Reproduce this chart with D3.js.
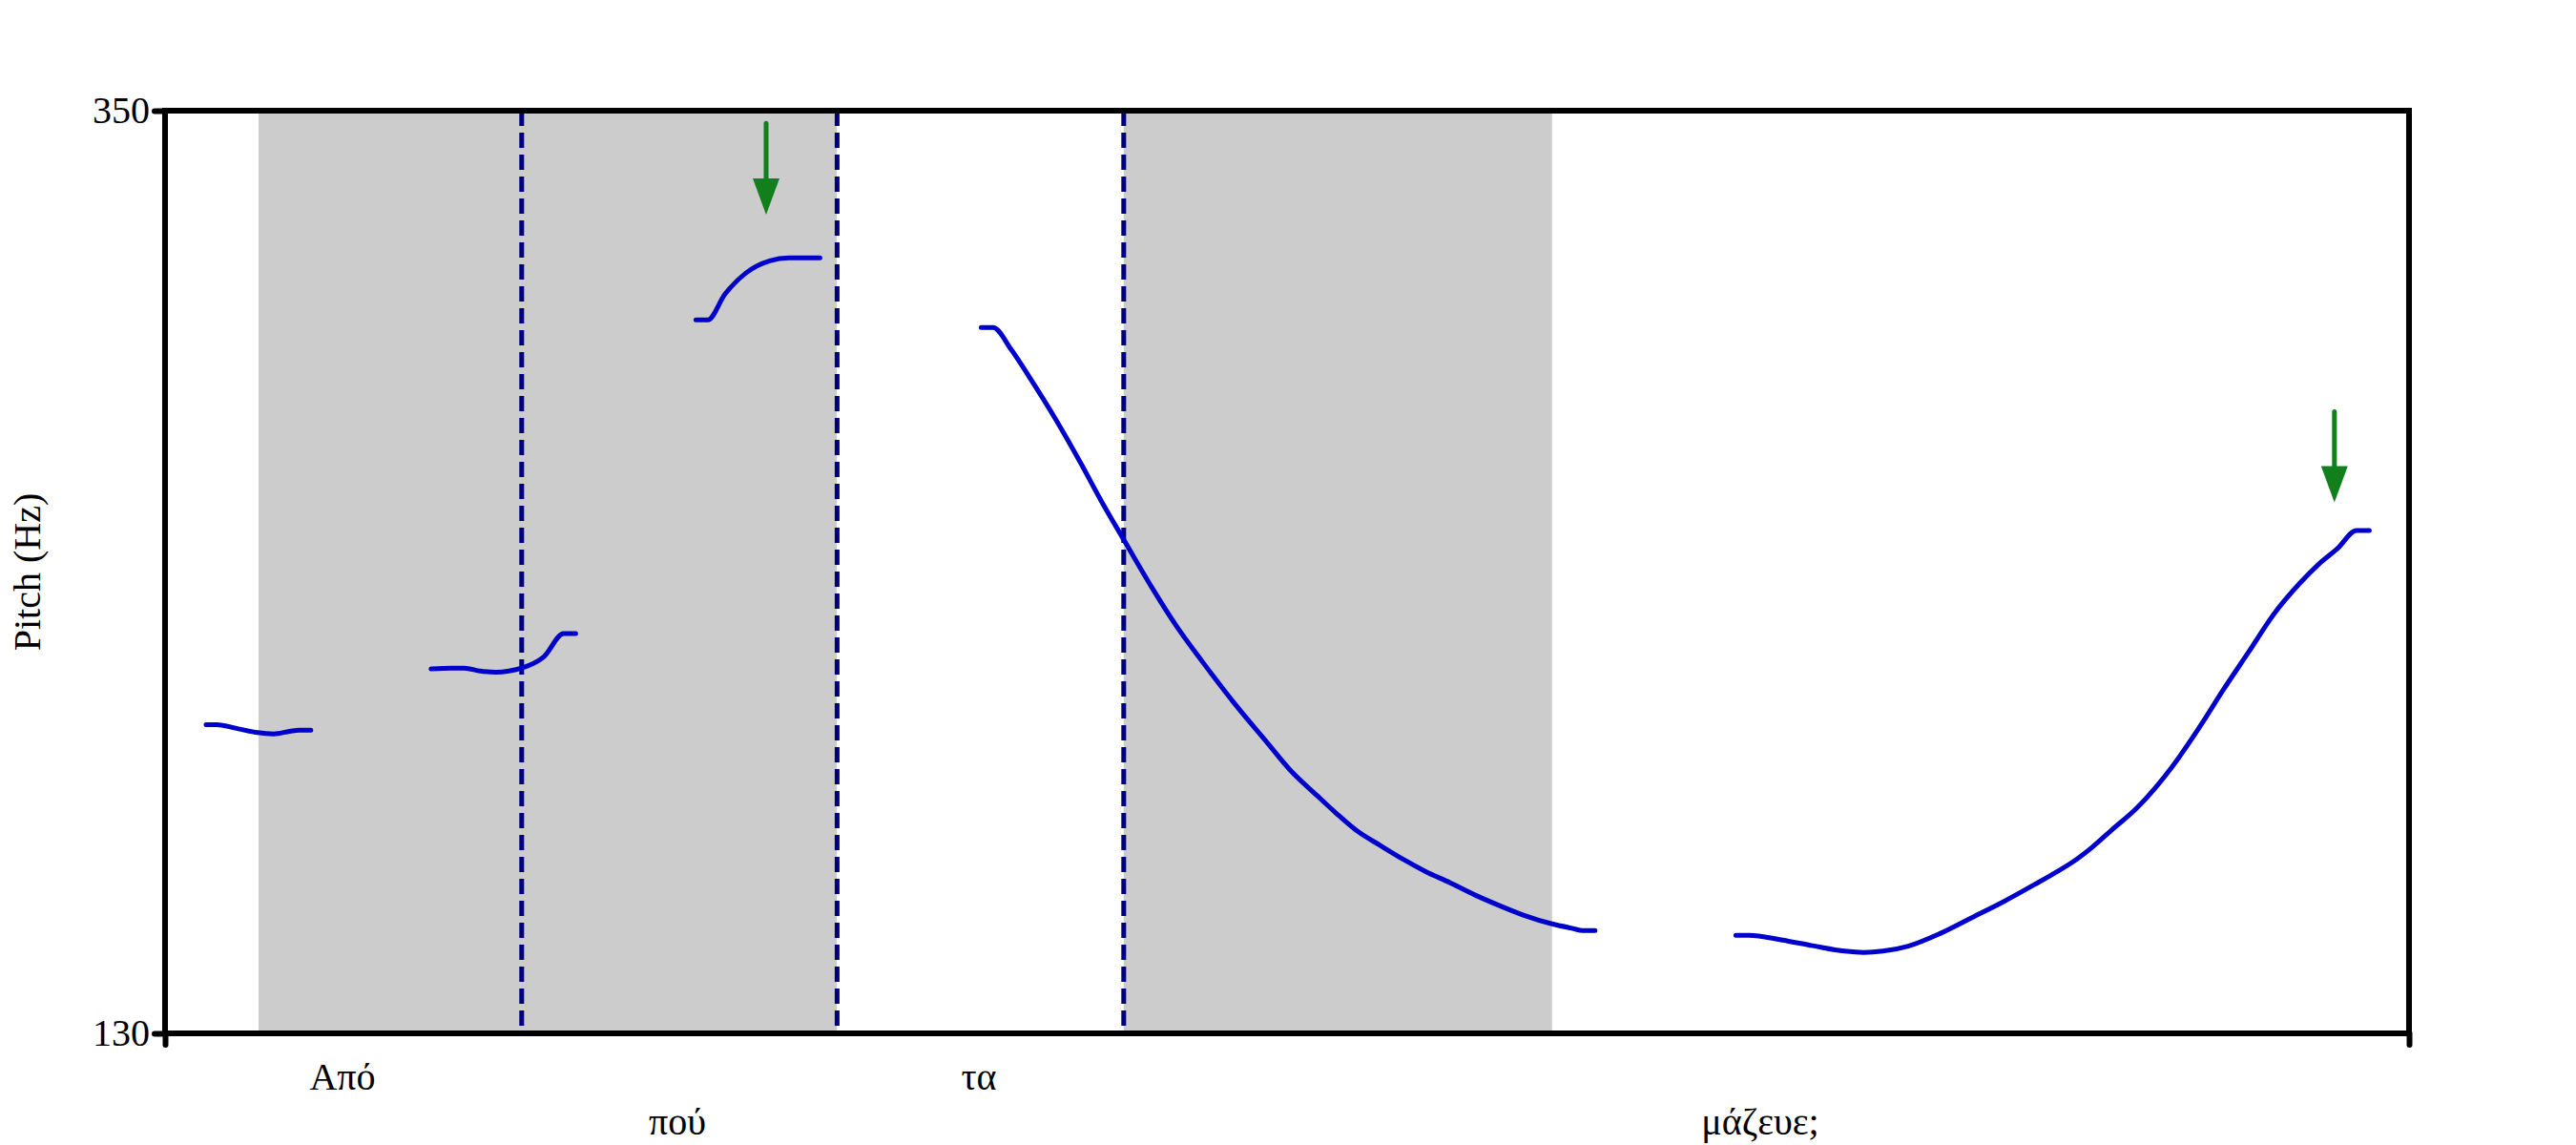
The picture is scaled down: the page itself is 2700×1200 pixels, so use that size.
<!DOCTYPE html>
<html>
<head>
<meta charset="utf-8">
<script src="https://cdn.jsdelivr.net/npm/d3@7"></script>
<style>
  html, body { margin: 0; padding: 0; background: #ffffff; }
  svg { display: block; }
  svg text { font-family: "Liberation Serif", "Times New Roman", "DejaVu Serif", serif; }
</style>
</head>
<body>
<script>
// ---------------- data ----------------
const timeDomain = [0, 1.176];          // seconds
const pitchDomain = [130, 350];         // Hz
const yTickValues = [130, 350];
const xTickValues = [0, 1.176];

// shaded intervals [start, end] (s)
const shadedIntervals = [[0.049, 0.352], [0.5024, 0.7269]];
// dashed boundaries (s)
const boundaryTimes = [0.1869, 0.3522, 0.5024];

// pitch track segments [time (s), pitch (Hz)]
const pitchSeg1 = [[0.0215,203.6],[0.0269,203.6],[0.0385,202.6],[0.0485,201.7],[0.0569,201.4],[0.0652,202.0],[0.0702,202.3],[0.0764,202.3]];
const pitchSeg2 = [[0.1394,216.9],[0.1502,217.1],[0.1569,217.1],[0.1652,216.4],[0.1735,216.1],[0.1802,216.4],[0.1869,217.1],[0.1985,219.8],[0.2089,225.3],[0.2152,225.3]];
const pitchSeg3 = [[0.2782,300.1],[0.2844,300.1],[0.2935,306.3],[0.3044,311.3],[0.3169,314.2],[0.3269,314.9],[0.3432,314.9]];
const pitchSeg4 = [[0.4277,298.3],[0.4339,298.3],[0.4435,293.0],[0.4535,286.1],[0.4669,276.3],[0.4802,265.7],[0.4902,257.3],[0.5027,247.5],[0.5169,236.5],[0.5302,227.0],[0.5435,218.7],[0.5602,208.8],[0.5769,199.7],[0.5902,192.5],[0.6035,186.8],[0.6135,182.6],[0.6252,178.1],[0.6369,174.8],[0.6485,171.6],[0.6602,168.7],[0.6735,165.9],[0.6869,162.9],[0.7002,160.3],[0.7119,158.2],[0.7269,156.1],[0.7369,155.1],[0.7435,154.5],[0.7494,154.5]];
const pitchSeg5 = [[0.8232,153.4],[0.8302,153.4],[0.8469,152.3],[0.8635,150.9],[0.8802,149.6],[0.8902,149.3],[0.9002,149.6],[0.9135,150.8],[0.9302,153.8],[0.9469,157.6],[0.9635,161.4],[0.9802,165.6],[0.9902,168.2],[1.0002,171.0],[1.0100,174.4],[1.0202,178.5],[1.0335,183.8],[1.0519,193.6],[1.0669,203.5],[1.0785,211.8],[1.0919,220.9],[1.1052,230.0],[1.1185,237.2],[1.1285,241.8],[1.1385,245.6],[1.1485,249.9],[1.1552,249.9]];
const pitchSegments = [pitchSeg1, pitchSeg2, pitchSeg3, pitchSeg4, pitchSeg5];

// words and their positions (s); row 0 = upper line, row 1 = lower line
const words = ["Από", "πού", "τα", "μάζευε;"];
const wordTimes = [0.093, 0.2685, 0.4265, 0.836];
const wordRows = [0, 1, 0, 1];

// green arrows: time (s), top of shaft (Hz), tip (Hz)
const arrowTimes = [0.315, 1.1369];
const arrowTopHz = [347.0, 278.2];
const arrowTipHz = [325.2, 256.6];

const yLabel = "Pitch (Hz)";

// ---------------- layout ----------------
const W = 2700, H = 1200;
const plot = { left: 173, right: 2525, top: 116, bottom: 1083 };

const svg = d3.select("body").append("svg")
  .attr("width", W).attr("height", H)
  .style("background", "#ffffff");

const x = d3.scaleLinear().domain(timeDomain).range([plot.left, plot.right]);
const y = d3.scaleLinear().domain(pitchDomain).range([plot.bottom, plot.top]);

// shaded intervals
svg.append("g").selectAll("rect").data(shadedIntervals).join("rect")
  .attr("x", d => x(d[0]))
  .attr("width", d => x(d[1]) - x(d[0]))
  .attr("y", y(pitchDomain[1]))
  .attr("height", y(pitchDomain[0]) - y(pitchDomain[1]))
  .attr("fill", "#cccccc");

// dashed boundaries
svg.append("g").selectAll("line").data(boundaryTimes).join("line")
  .attr("x1", d => x(d)).attr("x2", d => x(d))
  .attr("y1", y(pitchDomain[1])).attr("y2", y(pitchDomain[0]))
  .attr("stroke", "#00007f")
  .attr("stroke-width", 5)
  .attr("stroke-dasharray", "16,7");

// pitch track
const line = d3.line()
  .x(d => x(d[0]))
  .y(d => y(d[1]))
  .curve(d3.curveMonotoneX);

svg.append("g").selectAll("path").data(pitchSegments).join("path")
  .attr("d", line)
  .attr("fill", "none")
  .attr("stroke", "#0000cc")
  .attr("stroke-width", 5)
  .attr("stroke-linecap", "round")
  .attr("stroke-linejoin", "round");

// arrows
const arrows = arrowTimes.map((t, i) => ({ t, top: arrowTopHz[i], tip: arrowTipHz[i] }));
const ag = svg.append("g");
const headLen = 38, headHalf = 14;
ag.selectAll("line").data(arrows).join("line")
  .attr("x1", d => x(d.t)).attr("x2", d => x(d.t))
  .attr("y1", d => y(d.top)).attr("y2", d => y(d.tip) - headLen + 2)
  .attr("stroke", "#107f1c")
  .attr("stroke-width", 5)
  .attr("stroke-linecap", "round");
ag.selectAll("path").data(arrows).join("path")
  .attr("d", d => {
    const cx = x(d.t), ty = y(d.tip);
    return `M${cx - headHalf},${ty - headLen} L${cx + headHalf},${ty - headLen} L${cx},${ty} Z`;
  })
  .attr("fill", "#107f1c");

// frame
svg.append("rect")
  .attr("x", plot.left).attr("y", plot.top)
  .attr("width", plot.right - plot.left)
  .attr("height", plot.bottom - plot.top)
  .attr("fill", "none")
  .attr("stroke", "#000")
  .attr("stroke-width", 6);

// y axis
const yAxis = svg.append("g")
  .attr("transform", `translate(${plot.left},0)`)
  .call(d3.axisLeft(y).tickValues(yTickValues).tickSize(11).tickSizeOuter(0).tickPadding(5).tickFormat(d3.format("d")));
yAxis.attr("font-family", null);
yAxis.select(".domain").remove();
yAxis.selectAll(".tick line").attr("stroke", "#000").attr("stroke-width", 6).attr("stroke-linecap", "round");
yAxis.selectAll(".tick text")
  .attr("font-size", 40).attr("fill", "#000");

// x axis (ticks at ends only, no labels)
const xAxis = svg.append("g")
  .attr("transform", `translate(0,${plot.bottom})`)
  .call(d3.axisBottom(x).tickValues(xTickValues).tickSize(12).tickSizeOuter(0).tickFormat(""));
xAxis.select(".domain").remove();
xAxis.selectAll(".tick line").attr("stroke", "#000").attr("stroke-width", 6).attr("stroke-linecap", "round");

// word labels
const rowBaselines = [1142, 1189];
svg.append("g").selectAll("text").data(words).join("text")
  .attr("x", (d, i) => x(wordTimes[i]))
  .attr("y", (d, i) => rowBaselines[wordRows[i]])
  .attr("text-anchor", "middle")
  .attr("font-size", 40)
  .attr("fill", "#000")
  .text(d => d);

// y label
svg.append("text")
  .attr("transform", `translate(42,${(plot.top + plot.bottom) / 2}) rotate(-90)`)
  .attr("text-anchor", "middle")
  .attr("font-size", 40)
  .attr("fill", "#000")
  .text(yLabel);
</script>
</body>
</html>
